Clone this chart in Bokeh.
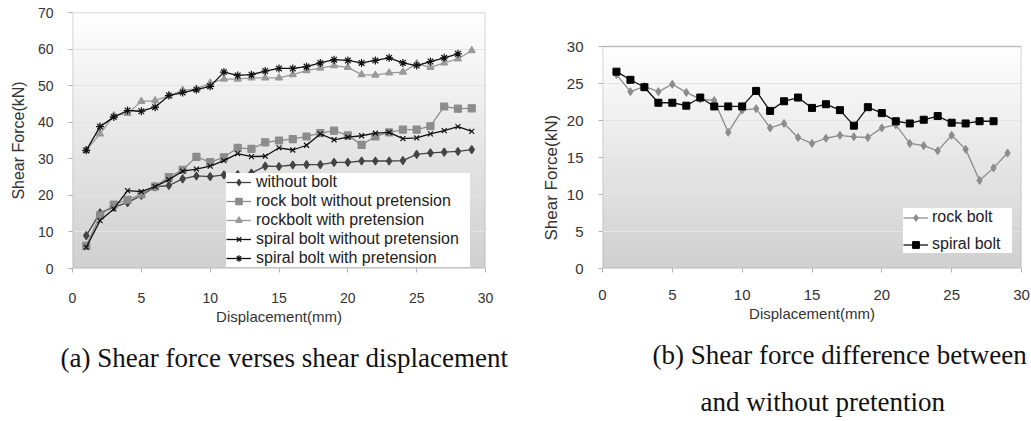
import numpy as np
from bokeh.plotting import figure
from bokeh.models import Range1d, FixedTicker, Title, BoxAnnotation
from bokeh.layouts import row
from bokeh.embed import file_html
from bokeh.resources import INLINE

# ---------------- data ----------------
disp = list(range(1, 30))          # displacement (mm) 1..29
disp28 = list(range(1, 29))        # displacement (mm) 1..28

without_bolt = [9.0, 15.2, 16.8, 18.0, 20.0, 22.3, 22.7, 24.5, 25.3, 25.1, 25.6, 25.7, 26.1, 28.0,
                27.9, 28.3, 28.4, 28.4, 29.0, 29.0, 29.4, 29.4, 29.4, 29.5, 31.2, 31.6, 31.8, 32.0, 32.5]
rock_wo_pre = [6.2, 14.5, 17.5, 18.8, 20.3, 22.4, 25.0, 27.0, 30.5, 29.1, 30.4, 33.0, 32.7, 34.5,
               35.0, 35.4, 36.1, 37.0, 37.7, 36.4, 33.8, 36.1, 37.2, 38.0, 38.0, 38.9, 44.3, 43.7, 43.8]
rock_w_pre = [32.3, 36.8, 41.8, 42.4, 45.7, 45.9, 47.3, 48.7, 49.1, 50.7, 51.8, 51.8, 52.1, 52.1,
              52.1, 53.0, 54.1, 54.8, 55.5, 55.0, 53.0, 52.9, 53.5, 53.7, 56.0, 55.0, 56.2, 57.3, 59.6]
spiral_wo_pre = [5.8, 13.1, 16.3, 21.3, 21.0, 22.4, 24.3, 26.6, 27.2, 28.0, 29.5, 31.4, 30.6, 30.7,
                 33.0, 32.4, 33.7, 36.8, 35.2, 35.9, 36.3, 37.0, 37.2, 35.5, 35.7, 36.8, 37.7, 38.8, 37.5]
spiral_w_pre = [32.3, 38.8, 41.4, 43.2, 43.0, 44.1, 47.3, 48.1, 48.9, 49.8, 53.7, 52.8, 53.0, 54.0,
                54.7, 54.7, 55.2, 56.2, 57.1, 56.9, 56.2, 56.9, 57.6, 56.2, 55.5, 56.6, 57.6, 58.7]

diff_rock = [26.2, 23.9, 24.6, 23.9, 24.9, 23.8, 22.9, 22.7, 18.4, 21.4, 21.6, 19.0, 19.6, 17.7,
             16.9, 17.6, 18.0, 17.8, 17.7, 19.0, 19.4, 16.9, 16.6, 15.9, 18.0, 16.1, 11.9, 13.6, 15.6]
diff_spiral = [26.6, 25.5, 24.5, 22.4, 22.4, 22.0, 23.1, 21.9, 21.9, 21.9, 24.0, 21.3, 22.6, 23.1,
               21.7, 22.2, 21.4, 19.3, 21.8, 21.0, 19.9, 19.6, 20.1, 20.6, 19.7, 19.6, 19.9, 19.9]

x_ticks = [0, 5, 10, 15, 20, 25, 30]
y_ticks_a = [0, 10, 20, 30, 40, 50, 60, 70]
y_ticks_b = [0, 5, 10, 15, 20, 25, 30]

caption_a = "(a) Shear force verses shear displacement"
caption_b1 = "(b) Shear force difference between"
caption_b2 = "and without pretention"

SANS = "Liberation Sans"
SERIF = "Liberation Serif"


def base_fig(width, ymax_box, ymax_range, yticks, left, right, tick_size, xstand):
    p = figure(width=width, height=421, x_range=Range1d(0, 30), y_range=Range1d(0, ymax_range),
               output_backend="svg", toolbar_location=None,
               min_border_left=left, min_border_right=right,
               min_border_top=12, min_border_bottom=153)
    p.background_fill_color = "white"
    p.border_fill_color = "white"
    grad = np.linspace(0, 1, 256).reshape(256, 1)
    pal = ["#%02x%02x%02x" % (v, v, v) for v in np.linspace(208, 255, 256).astype(int)]
    p.image(image=[grad], x=0, y=0, dw=30, dh=ymax_box, palette=pal, level="image")
    p.xaxis.ticker = FixedTicker(ticks=x_ticks)
    p.yaxis.ticker = FixedTicker(ticks=yticks)
    p.axis.axis_line_color = None
    p.axis.major_tick_line_color = "#b0b0b0"
    p.axis.major_tick_in = 0
    p.axis.major_tick_out = 4
    p.axis.minor_tick_line_color = None
    p.axis.major_label_text_font = SANS
    p.axis.major_label_text_font_size = tick_size
    p.axis.major_label_text_color = "#333333"
    p.xaxis.major_label_standoff = xstand
    p.yaxis.major_label_standoff = 15
    p.axis.axis_label_text_font = SANS
    p.axis.axis_label_text_font_style = "normal"
    p.axis.axis_label_text_color = "#333333"
    p.xaxis.axis_label = "Displacement(mm)"
    p.xaxis.axis_label_text_font_size = "15px"
    p.xaxis.axis_label_standoff = 2
    p.xgrid.visible = False
    p.ygrid.grid_line_color = "#e4e4e4"
    p.outline_line_color = None
    p.add_layout(BoxAnnotation(left=0, right=30, bottom=0, top=ymax_box, fill_alpha=0,
                               line_color="#555555", line_width=1.5))
    return p


def caption(p, text, offset, standoff):
    t = Title(text=text, align="left", offset=offset, standoff=standoff,
              text_font=SERIF, text_font_size="27px", text_font_style="normal",
              text_color="#111111")
    p.add_layout(t, "below")


# ---------------- figure (a) ----------------
pa = base_fig(520, 70, 70, y_ticks_a, 72, 35, "14px", 20)
pa.yaxis.axis_label = "Shear Force(kN)"
pa.yaxis.axis_label_text_font_size = "16px"
pa.yaxis.axis_label_standoff = 8

series_a = [
    (without_bolt, disp, "without bolt", "#444444", "diamond", 8),
    (rock_wo_pre, disp, "rock bolt without pretension", "#8c8c8c", "square", 7),
    (rock_w_pre, disp, "rockbolt with pretension", "#9a9a9a", "triangle", 7),
    (spiral_wo_pre, disp, "spiral bolt without pretension", "#111111", "x", 7),
    (spiral_w_pre, disp28, "spiral bolt with pretension", "#111111", "asterisk", 8),
]
for ys, xs, name, col, mk, sz in series_a:
    pa.line(xs, ys, line_color=col, line_width=1.3, legend_label=name)
    pa.scatter(xs, ys, marker=mk, size=sz, fill_color=col, line_color=col, line_width=1.2,
               legend_label=name)

la = pa.legend[0]
la.location = (154, 1)
la.background_fill_color = "white"
la.background_fill_alpha = 1.0
la.border_line_color = None
la.label_text_font = SANS
la.label_text_font_size = "16px"
la.label_text_color = "#222222"
la.label_height = 16
la.glyph_height = 16
la.glyph_width = 25
la.label_standoff = 5
la.label_width = 214
la.spacing = 1
la.padding = 5
la.margin = 0

caption(pa, caption_a, -12, 27)

# ---------------- figure (b) ----------------
# frame spans the same height as (a); the boxed plot area covers 0..30
pb = base_fig(511, 30, 30 * 256 / 222, y_ticks_b, 82, 10, "15px", 17)
pb.add_layout(Title(text="Shear Force(kN)", align="left", offset=28, standoff=6,
                    text_font=SANS, text_font_size="17px", text_font_style="normal",
                    text_color="#333333"), "left")

pb.line(disp, diff_rock, line_color="#8c8c8c", line_width=1.3, legend_label="rock bolt")
pb.scatter(disp, diff_rock, marker="diamond", size=8, fill_color="#8c8c8c", line_color="#8c8c8c",
           legend_label="rock bolt")
pb.line(disp28, diff_spiral, line_color="#111111", line_width=1.3, legend_label="spiral bolt")
pb.scatter(disp28, diff_spiral, marker="square", size=7, fill_color="#000000", line_color="#000000",
           legend_label="spiral bolt")

lb = pb.legend[0]
lb.location = (301, 15)
lb.background_fill_color = "white"
lb.background_fill_alpha = 1.0
lb.border_line_color = None
lb.label_text_font = SANS
lb.label_text_font_size = "16px"
lb.label_text_color = "#222222"
lb.label_height = 17
lb.glyph_height = 17
lb.glyph_width = 25
lb.label_standoff = 4
lb.label_width = 80
lb.spacing = 9
lb.padding = 5
lb.margin = 0

caption(pb, caption_b1, 50, 27)
caption(pb, caption_b2, 98, 2)

layout = row(pa, pb)
open("out.html", "w").write(file_html(layout, INLINE))
